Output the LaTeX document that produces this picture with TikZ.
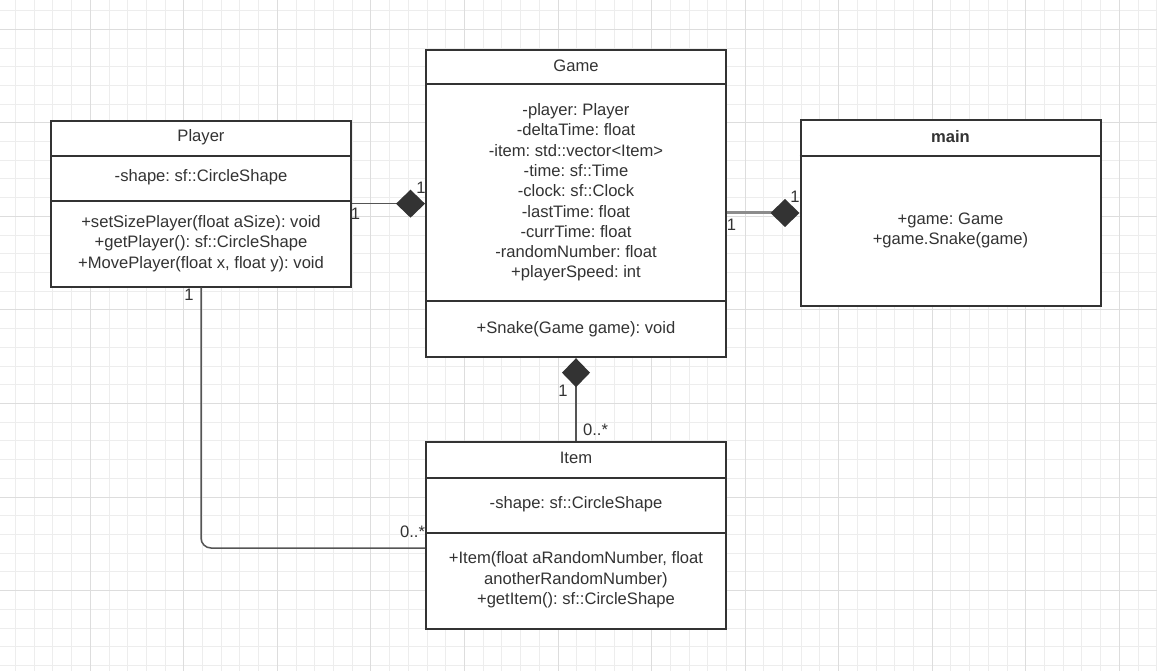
\documentclass[tikz,border=0pt]{standalone}
\usepackage{fontspec}
\setmainfont{Liberation Sans}
\frenchspacing
\usetikzlibrary{arrows.meta}
\definecolor{ink}{HTML}{333333}
\definecolor{minorgrid}{HTML}{EDEDED}
\definecolor{majorgrid}{HTML}{DDDDDD}
\definecolor{linkgray}{HTML}{555555}
\definecolor{doublegray}{HTML}{8C8C8C}
\begin{document}
\begin{tikzpicture}[x=1pt,y=-1pt,
  umlbox/.style={draw=ink, line width=2pt, fill=white, minimum width=300pt, inner sep=0pt},
  divider/.style={draw=ink, line width=2pt},
  txt/.style={text=ink, font=\fontsize{16.6}{20.3}\selectfont, align=center, inner sep=0pt},
  ttl/.style={txt, font=\fontsize{16.6}{20.3}\selectfont\bfseries},
  mult/.style={text=ink, font=\fontsize{16.6}{20.3}\selectfont, inner sep=0pt},
  assoc/.style={draw=linkgray, line width=1.5pt},
  heavy/.style={draw=doublegray, line width=3pt},
  comp/.style={-{Diamond[length=29pt,width=28pt,color=ink,fill=ink]}},
  minorline/.style={draw=minorgrid, line width=1pt},
  majorline/.style={draw=majorgrid, line width=1pt}]
\useasboundingbox (0,0) rectangle (1157,671);
\fill[white] (0,0) rectangle (1157,671);
% grid
\foreach \i in {0,...,61} \path[minorline] ({15.46+18.71*\i},0) -- ({15.46+18.71*\i},671);
\foreach \j in {0,...,35} \path[minorline] (0,{10.59+18.71*\j}) -- (1157,{10.59+18.71*\j});
\foreach \i in {0,...,11} \path[majorline] ({90.3+93.55*\i},0) -- ({90.3+93.55*\i},671);
\foreach \j in {0,...,6} \path[majorline] (0,{29.3+93.55*\j}) -- (1157,{29.3+93.55*\j});

% boxes
\node[umlbox, minimum height=166pt] (player) at (201,203.7) {};
\node[umlbox, minimum height=307pt] (game) at (576,203.7) {};
\node[umlbox, minimum height=185pt] (main) at (950.5,213) {};
\node[umlbox, minimum height=187pt] (item) at (576,535) {};

% dividers
\path[divider] (player.west |- 0,155.7) -- (player.east |- 0,155.7);
\path[divider] (player.west |- 0,201) -- (player.east |- 0,201);
\path[divider] (game.west |- 0,84.3) -- (game.east |- 0,84.3);
\path[divider] (game.west |- 0,301) -- (game.east |- 0,301);
\path[divider] (main.west |- 0,156.3) -- (main.east |- 0,156.3);
\path[divider] (item.west |- 0,477.7) -- (item.east |- 0,477.7);
\path[divider] (item.west |- 0,532.7) -- (item.east |- 0,532.7);

% texts
\node[txt] (playerT) at (201,137.5) {Player};
\node[txt] (playerA) at (201,177) {-shape: sf::CircleShape};
\node[txt] (playerM) at (201,243.5) {+setSizePlayer(float aSize): void\\+getPlayer(): sf::CircleShape\\+MovePlayer(float x, float y): void};

\node[txt] (gameT) at (576,66) {Game};
\node[txt] (gameA) at (576,192.5) {-player: Player\\-deltaTime: float\\-item: std::vector<Item>\\-time: sf::Time\\-clock: sf::Clock\\-lastTime: float\\-currTime: float\\-randomNumber: float\\+playerSpeed: int};
\node[txt] (gameM) at (576,329) {+Snake(Game game): void};

\node[ttl] (mainT) at (950.5,137) {main};
\node[txt] (mainM) at (950.5,230.5) {+game: Game\\+game.Snake(game)};

\node[txt] (itemT) at (576,458) {Item};
\node[txt] (itemA) at (576,504) {-shape: sf::CircleShape};
\node[txt] (itemM) at (576,580) {+Item(float aRandomNumber, float\\anotherRandomNumber)\\+getItem(): sf::CircleShape};

% connectors
\draw[assoc, comp] (player.east) -- (game.west);
\draw[heavy, comp] (game.east |- main.west) -- (main.west);
\draw[assoc, comp] (item.north) -- (game.south);
\draw[assoc, rounded corners=10pt] (player.south) |- (item.west |- 0,548);

% multiplicities
\node[mult] (m1) at (355.5,214) {1};
\node[mult] (m2) at (421,187.5) {1};
\node[mult] (m3) at (731.5,224.5) {1};
\node[mult] (m4) at (795,197) {1};
\node[mult] (m5) at (563,391) {1};
\node[mult] (m6) at (595.5,430) {0..*};
\node[mult] (m7) at (189,295) {1};
\node[mult] (m8) at (412.5,532) {0..*};
\end{tikzpicture}
\end{document}
